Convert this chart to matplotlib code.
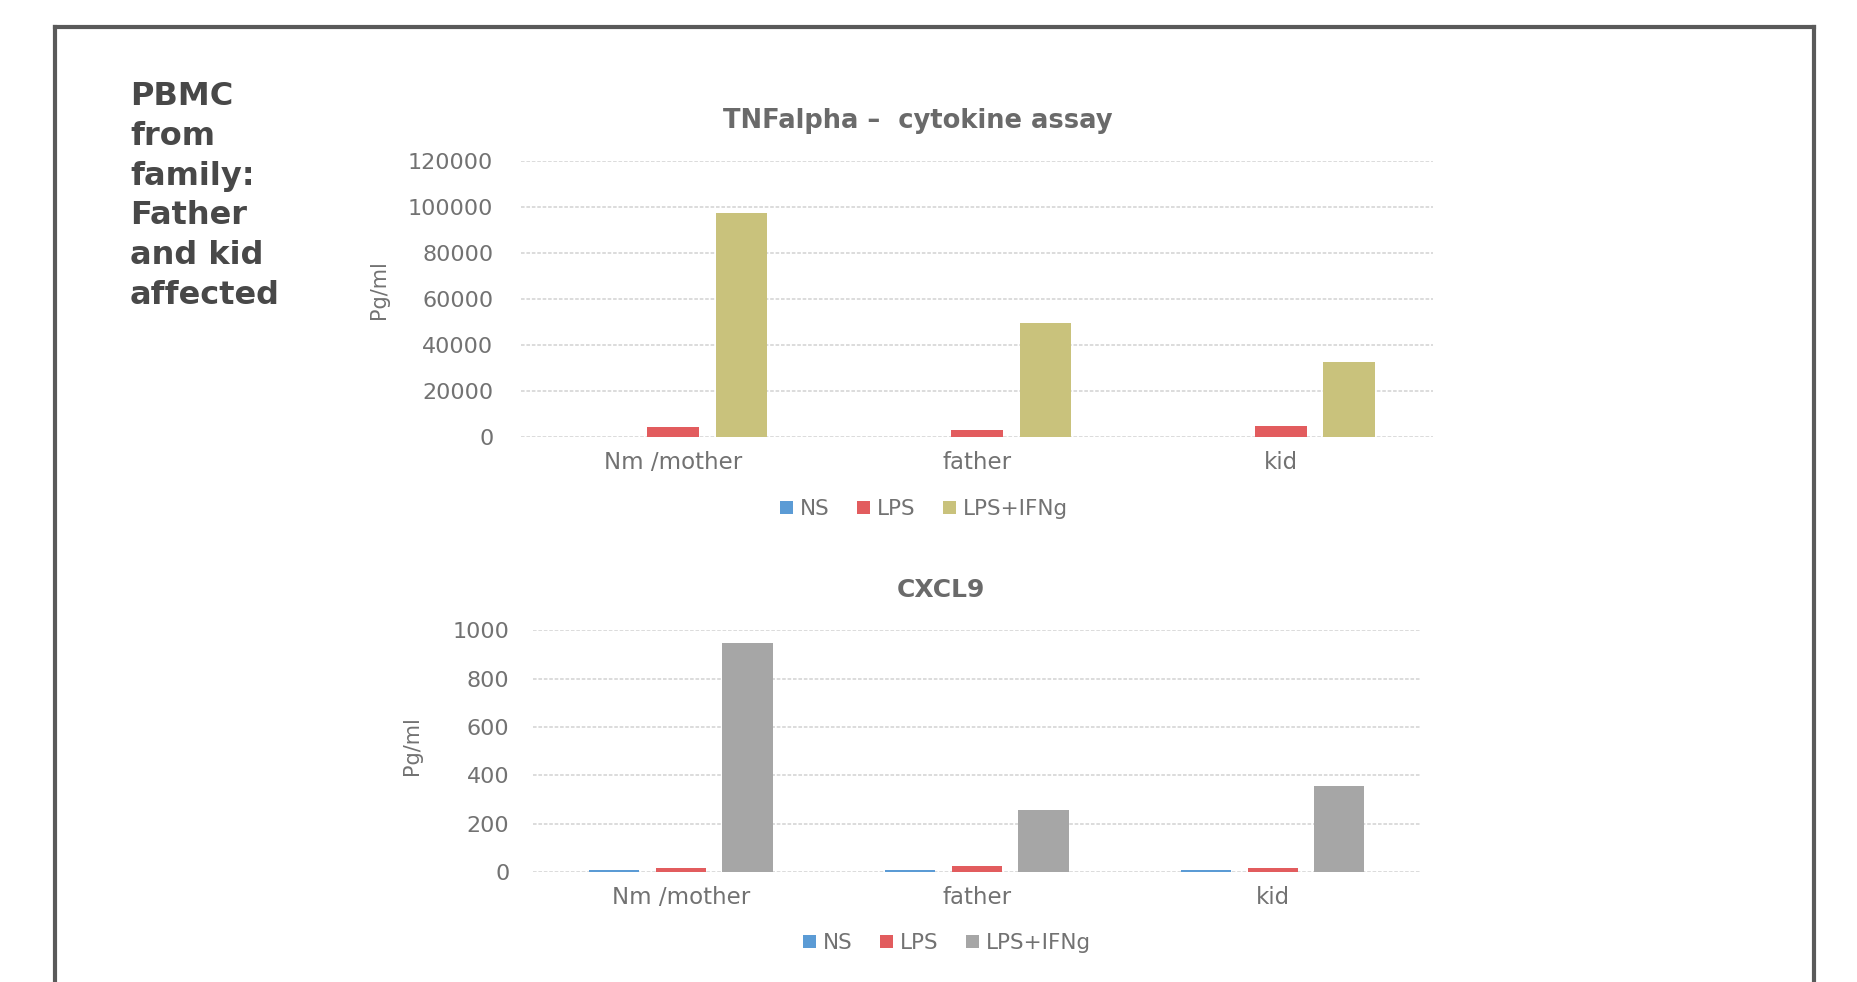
import matplotlib.pyplot as plt
import numpy as np
from matplotlib.lines import Line2D

categories = ["Nm /mother", "father", "kid"]
series = ["NS", "LPS", "LPS+IFNg"]

tnf_ns = [100, 80, 100]
tnf_lps = [4500, 3200, 4600]
tnf_lps_ifng = [97500, 49500, 32500]

cxcl9_ns = [8, 7, 7]
cxcl9_lps = [18, 24, 18]
cxcl9_lps_ifng = [950, 255, 355]

tnf_ticks = [0, 20000, 40000, 60000, 80000, 100000, 120000]
cxcl9_ticks = [0, 200, 400, 600, 800, 1000]

blue = "#5b9bd5"
red = "#e25c5e"
khaki = "#c9c27c"
grey = "#a6a6a6"
txt = "#727272"
font = "DejaVu Sans"

fig = plt.figure(figsize=(18.57, 9.82), dpi=100)

def bars(ax, vals, colours, ticks, pad):
    x = np.arange(len(categories))
    off = 0.225
    w = 0.17
    for i, (v, c) in enumerate(zip(vals, colours)):
        ax.bar(x + (i - 1) * off, v, w, color=c, label=series[i], zorder=3)
    ax.set_xlim(-0.5, 2.5)
    ax.set_ylim(ticks[0], ticks[-1])
    ax.set_yticks(ticks)
    ax.set_yticklabels([str(t) for t in ticks], fontfamily=font, fontsize=16, color=txt)
    ax.set_xticks(x)
    ax.set_xticklabels(categories, fontfamily=font, fontsize=16.5, color=txt)
    ax.tick_params(axis="y", length=0, pad=pad)
    ax.tick_params(axis="x", length=0, pad=10)
    ax.grid(axis="y", color="#d9d9d9", linewidth=1.3, linestyle=(0, (2, 1)), zorder=0)
    for s in ax.spines.values():
        s.set_visible(False)

def legend(ax, x, y):
    fig.legend(*ax.get_legend_handles_labels(), loc="center", bbox_to_anchor=(x / 1857, 1 - y / 982),
               ncol=3, frameon=False, handlelength=0.6, handleheight=0.6, handletextpad=0.3,
               columnspacing=1.3, prop={"family": font, "size": 15.5}, labelcolor=txt)

# TNFalpha
ax1 = fig.add_axes([0.2806, 0.555, 0.491, 0.281])
bars(ax1, [tnf_ns, tnf_lps, tnf_lps_ifng], [blue, red, khaki], tnf_ticks, 20)
fig.text(918 / 1857, 1 - 121 / 982, "TNFalpha \u2013  cytokine assay", ha="center", va="center",
         fontfamily=font, fontsize=18.5, fontweight="bold", color="#6a6a6a")
fig.text(379 / 1857, 1 - 290 / 982, "Pg/ml", rotation=90, ha="center", va="center",
         fontfamily=font, fontsize=15, color=txt)
legend(ax1, 924, 509)

# CXCL9
ax2 = fig.add_axes([0.287, 0.112, 0.478, 0.246])
bars(ax2, [cxcl9_ns, cxcl9_lps, cxcl9_lps_ifng], [blue, red, grey], cxcl9_ticks, 17)
fig.text(941 / 1857, 1 - 590 / 982, "CXCL9", ha="center", va="center",
         fontfamily=font, fontsize=18, fontweight="bold", color="#6a6a6a")
fig.text(412 / 1857, 1 - 746 / 982, "Pg/ml", rotation=90, ha="center", va="center",
         fontfamily=font, fontsize=15, color=txt)
legend(ax2, 947, 943)

# side note
fig.text(130 / 1857, 1 - 81 / 982, "PBMC\nfrom\nfamily:\nFather\nand kid\naffected", ha="left", va="top",
         fontfamily=font, fontweight="bold", fontsize=23, color="#484848", linespacing=1.365)

# frame around the slide
fx0, fx1, fy = 55 / 1857, 1814 / 1857, 1 - 27 / 982
for xs, ys in [([fx0, fx0], [0, fy]), ([fx0, fx1], [fy, fy]), ([fx1, fx1], [fy, 0])]:
    fig.add_artist(Line2D(xs, ys, color="#5a5a5a", linewidth=3, transform=fig.transFigure))

fig.savefig("out.png", dpi=100)
